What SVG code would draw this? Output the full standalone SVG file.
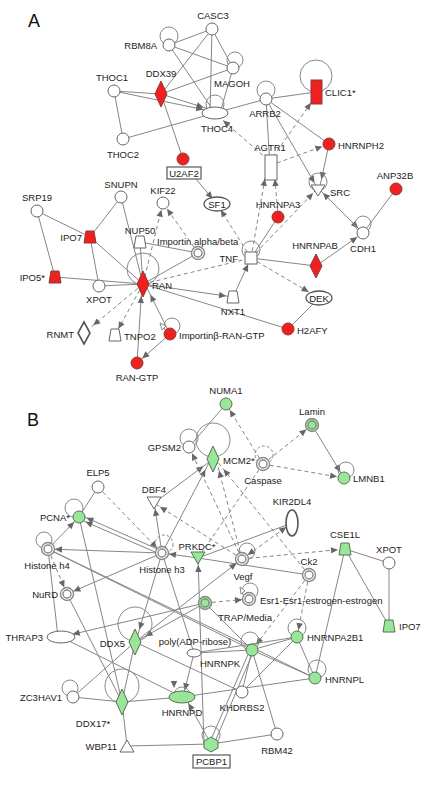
<svg xmlns="http://www.w3.org/2000/svg" width="426" height="788" viewBox="0 0 426 788">
<style>
text{font-family:"Liberation Sans",Arial,sans-serif;font-size:9.5px;fill:#222}
.m{text-anchor:middle}.s{text-anchor:start}.en{text-anchor:end}
.big{font-size:18px;fill:#111}
.n{fill:#fff;stroke:#666;stroke-width:1}
.r{fill:#f02020;stroke:#8a3a3a;stroke-width:1}
.g{fill:#98e698;stroke:#5a6e5a;stroke-width:1}
.dc{stroke:#888;stroke-width:1.4}
.lp{fill:none;stroke:#888;stroke-width:1}
.lpd{fill:none;stroke:#888;stroke-width:1;stroke-dasharray:3 2}
.e line{stroke:#868686;stroke-width:1;fill:none}
.d{stroke-dasharray:4 3}
.a{marker-end:url(#ar)}.a2{marker-end:url(#ar2)}.b{marker-start:url(#ar);marker-end:url(#ar)}
.box{fill:#fff;stroke:#666;stroke-width:1.3}
</style>
<defs>
<marker id="ar" viewBox="0 0 30 10" refX="15" refY="5" markerWidth="30" markerHeight="10" markerUnits="userSpaceOnUse" orient="auto-start-reverse"><path d="M1,1.8 L8,5 L1,8.2 z" fill="#666"/></marker>
<marker id="ar2" viewBox="0 0 30 10" refX="20" refY="5" markerWidth="30" markerHeight="10" markerUnits="userSpaceOnUse" orient="auto-start-reverse"><path d="M1,1.8 L8,5 L1,8.2 z" fill="#666"/></marker>
</defs>
<rect width="426" height="788" fill="#fff"/>
<text x="28" y="27" class="big">A</text>
<text x="27" y="426" class="big">B</text>

<g id="connectors" class="e">
<!-- Panel A -->
<line x1="169" y1="45" x2="212" y2="29"/>
<line x1="169" y1="45" x2="233" y2="68"/>
<line x1="169" y1="45" x2="215" y2="113"/>
<line x1="161" y1="94" x2="212" y2="29"/>
<line x1="161" y1="94" x2="233" y2="68"/>
<line x1="161" y1="94" x2="215" y2="111" class="a2"/>
<line x1="114" y1="91" x2="215" y2="112" class="a2"/>
<line x1="114" y1="91" x2="161" y2="94"/>
<line x1="114" y1="91" x2="123" y2="139"/>
<line x1="123" y1="139" x2="215" y2="113"/>
<line x1="161" y1="94" x2="183" y2="159"/>
<line x1="212" y1="29" x2="233" y2="68"/>
<line x1="212" y1="29" x2="210" y2="113"/>
<line x1="233" y1="68" x2="220" y2="113"/>
<line x1="215" y1="113" x2="266" y2="99"/>
<line x1="266" y1="99" x2="316" y2="92"/>
<line x1="266" y1="99" x2="270" y2="167"/>
<line x1="266" y1="99" x2="329" y2="144"/>
<line x1="266" y1="99" x2="318" y2="189" class="a"/>
<line x1="268" y1="160" x2="218" y2="116" class="d a"/>
<line x1="273" y1="157" x2="315" y2="97" class="d a"/>
<line x1="277" y1="163" x2="329" y2="144" class="d a"/>
<line x1="329" y1="144" x2="320" y2="186" class="a"/>
<line x1="196" y1="179" x2="217" y2="204" class="a"/>
<line x1="251" y1="258" x2="267" y2="167" class="d a2"/>
<line x1="278" y1="217" x2="274" y2="167" class="d a2"/>
<line x1="251" y1="258" x2="217" y2="204" class="d a"/>
<line x1="251" y1="258" x2="318" y2="188" class="d a"/>
<line x1="251" y1="258" x2="278" y2="217"/>
<line x1="251" y1="258" x2="316" y2="266"/>
<line x1="316" y1="266" x2="363" y2="233" class="a"/>
<line x1="318" y1="188" x2="363" y2="233" class="b"/>
<line x1="396" y1="189" x2="363" y2="233"/>
<line x1="251" y1="258" x2="319" y2="298" class="d a2"/>
<line x1="319" y1="298" x2="288" y2="329"/>
<line x1="233" y1="297" x2="251" y2="258" class="a"/>
<line x1="143" y1="284" x2="233" y2="297" class="a"/>
<line x1="143" y1="284" x2="288" y2="329"/>
<line x1="143" y1="284" x2="251" y2="258" class="d"/>
<line x1="143" y1="284" x2="163" y2="203" class="d a"/>
<line x1="198" y1="253" x2="163" y2="203" class="d a"/>
<line x1="140" y1="242" x2="198" y2="253"/>
<line x1="198" y1="253" x2="143" y2="284"/>
<line x1="121" y1="197" x2="143" y2="284"/>
<line x1="121" y1="197" x2="90" y2="237"/>
<line x1="37" y1="211" x2="90" y2="237"/>
<line x1="37" y1="211" x2="55" y2="277"/>
<line x1="90" y1="237" x2="143" y2="284"/>
<line x1="90" y1="237" x2="99" y2="286"/>
<line x1="55" y1="277" x2="143" y2="284"/>
<line x1="99" y1="286" x2="143" y2="284"/>
<line x1="140" y1="242" x2="143" y2="284"/>
<line x1="143" y1="284" x2="84" y2="333" class="d a2"/>
<line x1="143" y1="284" x2="115" y2="335" class="d a"/>
<line x1="137" y1="363" x2="142" y2="284" class="a2"/>
<line x1="170" y1="334" x2="145" y2="284" class="a2"/>
<line x1="170" y1="334" x2="137" y2="363" class="a"/>
<!-- Panel B -->
<line x1="226" y1="404" x2="189" y2="447"/>
<line x1="263" y1="464" x2="226" y2="404" class="d a"/>
<line x1="263" y1="464" x2="312" y2="425" class="d a"/>
<line x1="263" y1="464" x2="344" y2="478" class="d a"/>
<line x1="312" y1="425" x2="344" y2="478" class="a"/>
<line x1="154" y1="503" x2="213" y2="459" class="a2"/>
<line x1="162" y1="553" x2="211" y2="459" class="a2"/>
<line x1="242" y1="559" x2="216" y2="459" class="d a2"/>
<line x1="309" y1="575" x2="216" y2="460" class="d a2"/>
<line x1="242" y1="559" x2="189" y2="447" class="d a"/>
<line x1="263" y1="464" x2="198" y2="558" class="d"/>
<line x1="162" y1="553" x2="154" y2="502" class="a"/>
<line x1="242" y1="559" x2="154" y2="503" class="d a"/>
<line x1="98" y1="487" x2="79" y2="517"/>
<line x1="98" y1="487" x2="162" y2="553" class="d a"/>
<line x1="162" y1="555" x2="79" y2="519" class="a"/>
<line x1="162" y1="551" x2="80" y2="515" class="a"/>
<line x1="48" y1="549" x2="79" y2="517" class="a"/>
<line x1="162" y1="553" x2="48" y2="549" class="a"/>
<line x1="162" y1="553" x2="67" y2="594" class="a"/>
<line x1="198" y1="558" x2="162" y2="553" class="a"/>
<line x1="198" y1="558" x2="292" y2="523"/>
<line x1="242" y1="559" x2="292" y2="523" class="d b"/>
<line x1="242" y1="559" x2="345" y2="549" class="d a"/>
<line x1="198" y1="558" x2="309" y2="575"/>
<line x1="345" y1="549" x2="389" y2="563"/>
<line x1="345" y1="549" x2="389" y2="626"/>
<line x1="389" y1="563" x2="389" y2="626"/>
<line x1="345" y1="549" x2="315" y2="678"/>
<line x1="205" y1="603" x2="249" y2="599" class="d a"/>
<line x1="309" y1="575" x2="252" y2="650" class="d a"/>
<line x1="309" y1="575" x2="297" y2="637" class="d a"/>
<line x1="252" y1="650" x2="297" y2="637"/>
<line x1="252" y1="650" x2="315" y2="678"/>
<line x1="252" y1="650" x2="242" y2="692"/>
<line x1="250" y1="650" x2="209" y2="744"/>
<line x1="254" y1="650" x2="214" y2="744"/>
<line x1="252" y1="650" x2="277" y2="734"/>
<line x1="297" y1="637" x2="242" y2="692"/>
<line x1="297" y1="637" x2="315" y2="678"/>
<line x1="182" y1="697" x2="315" y2="678"/>
<line x1="277" y1="734" x2="211" y2="744"/>
<line x1="211" y1="744" x2="127" y2="746"/>
<line x1="211" y1="744" x2="185" y2="697" class="a"/>
<line x1="122" y1="702" x2="182" y2="697"/>
<line x1="122" y1="702" x2="73" y2="697"/>
<line x1="122" y1="702" x2="127" y2="746"/>
<line x1="135" y1="642" x2="122" y2="702"/>
<line x1="135" y1="642" x2="73" y2="697"/>
<line x1="194" y1="653" x2="183" y2="697" class="a"/>
<line x1="205" y1="603" x2="135" y2="642" class="a2"/>
<line x1="162" y1="553" x2="136" y2="641" class="a2"/>
<line x1="135" y1="642" x2="242" y2="559" class="a"/>
<line x1="61" y1="637" x2="182" y2="697"/>
<line x1="205" y1="603" x2="61" y2="637" class="a2"/>
<line x1="48" y1="549" x2="252" y2="650"/>
<line x1="48" y1="549" x2="315" y2="678"/>
<line x1="48" y1="549" x2="58" y2="637"/>
<line x1="48" y1="549" x2="67" y2="594" class="d a"/>
<line x1="67" y1="594" x2="122" y2="702"/>
<line x1="79" y1="517" x2="122" y2="702"/>
<line x1="162" y1="553" x2="194" y2="653"/>
<line x1="204" y1="744" x2="198" y2="558" class="a"/>
<line x1="205" y1="603" x2="252" y2="650"/>
<line x1="135" y1="642" x2="242" y2="692"/>
<line x1="194" y1="653" x2="252" y2="650"/>
<line x1="194" y1="653" x2="297" y2="637"/>
</g>

<!-- Panel A nodes -->
<g id="RBM8A"><circle cx="169" cy="36" r="9" class="lp"/><circle cx="169" cy="45" r="6" class="n"/><text x="157" y="48.5" class="en">RBM8A</text></g>
<g id="CASC3"><circle cx="212" cy="29" r="6" class="n"/><text x="213" y="18.5" class="m">CASC3</text></g>
<g id="MAGOH"><circle cx="235" cy="60" r="8" class="lp"/><circle cx="233" cy="68" r="6" class="n"/><text x="232" y="86.5" class="m">MAGOH</text></g>
<g id="DDX39"><path d="M161,81 L167,94 L161,107 L155,94 Z" class="r"/><text x="161" y="76.5" class="m">DDX39</text></g>
<g id="THOC1"><circle cx="114" cy="91" r="6" class="n"/><text x="112" y="80.5" class="m">THOC1</text></g>
<g id="THOC2"><circle cx="123" cy="139" r="6" class="n"/><text x="123" y="157.5" class="m">THOC2</text></g>
<g id="THOC4"><circle cx="215" cy="104" r="9" class="lp"/><ellipse cx="215" cy="113" rx="13" ry="6" class="n"/><text x="217" y="131.5" class="m">THOC4</text></g>
<g id="ARRB2"><circle cx="266" cy="90" r="9" class="lp"/><circle cx="266" cy="99" r="6" class="n"/><text x="265" y="116.5" class="m">ARRB2</text></g>
<g id="CLIC1"><circle cx="316" cy="76" r="16" class="lp"/><rect x="311" y="80" width="11" height="24" class="r"/><text x="325" y="95.5" class="s">CLIC1*</text></g>
<g id="AGTR1"><rect x="265" y="155" width="12" height="25" class="n"/><text x="270" y="150.5" class="m">AGTR1</text></g>
<g id="HNRNPH2"><circle cx="329" cy="144" r="6" class="r"/><text x="338" y="148.5" class="s">HNRNPH2</text></g>
<g id="U2AF2"><circle cx="183" cy="159" r="6" class="r"/><rect x="167" y="167" width="34" height="12" class="box"/><text x="184" y="176.5" class="m">U2AF2</text></g>
<g id="SF1"><ellipse cx="217" cy="204" rx="13" ry="7" fill="#fff" stroke="#555" stroke-width="1.3"/><text x="217" y="207.5" class="m">SF1</text></g>
<g id="SNUPN"><circle cx="121" cy="197" r="6" class="n"/><text x="121" y="187.5" class="m">SNUPN</text></g>
<g id="KIF22"><circle cx="163" cy="203" r="6" class="n"/><text x="163" y="193.5" class="m">KIF22</text></g>
<g id="SRP19"><circle cx="37" cy="211" r="6" class="n"/><text x="37" y="200.5" class="m">SRP19</text></g>
<g id="IPO7A"><path d="M86,231 L94,231 L96,243 L84,243 Z" class="r"/><text x="82" y="240.5" class="en">IPO7</text></g>
<g id="NUP50"><path d="M136,236 L144,236 L146,248 L134,248 Z" class="n"/><text x="140" y="233.5" class="m">NUP50</text></g>
<g id="ImportinAB"><circle cx="198" cy="253" r="6.5" fill="#fff" class="dc"/><circle cx="198" cy="253" r="4" fill="#fff" class="dc"/><text x="157" y="244.5" class="s">Importin alpha/beta</text></g>
<g id="HNRNPA3"><circle cx="278" cy="217" r="6" class="r"/><text x="278" y="207.5" class="m">HNRNPA3</text></g>
<g id="TNF"><circle cx="251" cy="250" r="9" class="lp"/><rect x="245" y="252" width="12" height="12" class="n"/><text x="238" y="261.5" class="en">TNF</text></g>
<g id="SRC"><circle cx="318" cy="182" r="9" class="lp"/><path d="M311,185 L325,185 L318,196 Z" class="n"/><text x="330" y="195.5" class="s">SRC</text></g>
<g id="ANP32B"><circle cx="396" cy="189" r="6" class="r"/><text x="395" y="178.5" class="m">ANP32B</text></g>
<g id="CDH1"><circle cx="363" cy="224" r="8" class="lp"/><circle cx="363" cy="233" r="6" class="n"/><text x="363" y="251.5" class="m">CDH1</text></g>
<g id="HNRNPAB"><path d="M316,254 L322,266 L316,278 L310,266 Z" class="r"/><text x="315" y="248.5" class="m">HNRNPAB</text></g>
<g id="IPO5"><path d="M51,271 L59,271 L61,283 L49,283 Z" class="r"/><text x="45" y="280.5" class="en">IPO5*</text></g>
<g id="XPOTA"><circle cx="99" cy="286" r="6" class="n"/><text x="99" y="302.5" class="m">XPOT</text></g>
<g id="RAN"><circle cx="143" cy="269" r="16" class="lp"/><path d="M143,271 L149,284 L143,297 L137,284 Z" class="r"/><text x="152" y="288.5" class="s">RAN</text></g>
<g id="NXT1"><path d="M229,291 L237,291 L239,303 L227,303 Z" class="n"/><text x="233" y="314.5" class="m">NXT1</text></g>
<g id="DEK"><ellipse cx="319" cy="298" rx="13" ry="7" fill="#fff" stroke="#555" stroke-width="1.3"/><text x="319" y="301.5" class="m">DEK</text></g>
<g id="H2AFY"><circle cx="288" cy="329" r="6" class="r"/><text x="297" y="333.5" class="s">H2AFY</text></g>
<g id="ImportinB"><circle cx="172" cy="326" r="8" class="lp"/><path d="M160,323 L166,326 L162,330 Z" fill="#fff" stroke="#888"/><circle cx="170" cy="334" r="6" class="r"/><text x="179" y="338.5" class="s">Importinβ-RAN-GTP</text></g>
<g id="RNMT"><path d="M84,322 L90,333 L84,344 L78,333 Z" fill="#fff" stroke="#555" stroke-width="1.6"/><text x="74" y="337.5" class="en">RNMT</text></g>
<g id="TNPO2"><path d="M111,329 L119,329 L121,341 L109,341 Z" class="n"/><text x="124" y="339.5" class="s">TNPO2</text></g>
<g id="RANGTP"><circle cx="137" cy="363" r="6" class="r"/><text x="137" y="380.5" class="m">RAN-GTP</text></g>

<!-- Panel B nodes -->
<g id="NUMA1"><circle cx="226" cy="404" r="6" class="g"/><text x="226" y="393.5" class="m">NUMA1</text></g>
<g id="GPSM2"><circle cx="189" cy="438" r="9" class="lp"/><circle cx="189" cy="447" r="6" class="n"/><text x="181" y="450.5" class="en">GPSM2</text></g>
<g id="MCM2"><circle cx="213" cy="440" r="17" class="lp"/><path d="M213,446 L219,459 L213,472 L207,459 Z" class="g"/><text x="223" y="463.5" class="s">MCM2*</text></g>
<g id="Caspase"><circle cx="264" cy="455" r="9" class="lpd"/><circle cx="263" cy="464" r="6.5" fill="#fff" class="dc"/><circle cx="263" cy="464" r="4" fill="#fff" class="dc"/><text x="263" y="483.5" class="m">Caspase</text></g>
<g id="Lamin"><circle cx="312" cy="425" r="6.5" fill="#98e698" class="dc"/><circle cx="312" cy="425" r="4" fill="#98e698" class="dc"/><text x="312" y="414.5" class="m">Lamin</text></g>
<g id="LMNB1"><circle cx="346" cy="470" r="8" class="lp"/><circle cx="344" cy="478" r="6" class="g"/><text x="353" y="481.5" class="s">LMNB1</text></g>
<g id="ELP5"><circle cx="98" cy="487" r="6" class="n"/><text x="98" y="475.5" class="m">ELP5</text></g>
<g id="DBF4"><path d="M147,497 L161,497 L154,509 Z" class="n"/><text x="154" y="492.5" class="m">DBF4</text></g>
<g id="KIR2DL4"><ellipse cx="292" cy="523" rx="6" ry="13" fill="#fff" stroke="#555" stroke-width="1.6"/><text x="292" y="504.5" class="m">KIR2DL4</text></g>
<g id="PCNA"><circle cx="74" cy="508" r="9" class="lp"/><circle cx="79" cy="517" r="6" class="g"/><text x="70" y="520.5" class="en">PCNA*</text></g>
<g id="Histoneh4"><circle cx="44" cy="540" r="8" class="lp"/><circle cx="48" cy="549" r="6.5" fill="#fff" class="dc"/><circle cx="48" cy="549" r="4" fill="#fff" class="dc"/><text x="47" y="568.5" class="m">Histone h4</text></g>
<g id="Histoneh3"><circle cx="164" cy="544" r="9" class="lpd"/><circle cx="162" cy="553" r="6.5" fill="#fff" class="dc"/><circle cx="162" cy="553" r="4" fill="#fff" class="dc"/><text x="162" y="572.5" class="m">Histone h3</text></g>
<g id="PRKDC"><path d="M191,552 L205,552 L198,564 Z" class="g"/><text x="197" y="549.5" class="m">PRKDC*</text></g>
<g id="Vegf"><circle cx="247" cy="551" r="8" class="lp"/><circle cx="242" cy="559" r="6.5" fill="#fff" class="dc"/><circle cx="242" cy="559" r="4" fill="#fff" class="dc"/><text x="243" y="579.5" class="m">Vegf</text></g>
<g id="Ck2"><circle cx="309" cy="575" r="6.5" fill="#fff" class="dc"/><circle cx="309" cy="575" r="4" fill="#fff" class="dc"/><text x="309" y="564.5" class="m">Ck2</text></g>
<g id="CSE1L"><path d="M341,543 L349,543 L351,555 L339,555 Z" class="g"/><text x="345" y="537.5" class="m">CSE1L</text></g>
<g id="XPOTB"><circle cx="389" cy="563" r="6" class="n"/><text x="389" y="552.5" class="m">XPOT</text></g>
<g id="NuRD"><circle cx="67" cy="594" r="6.5" fill="#fff" class="dc"/><circle cx="67" cy="594" r="4" fill="#fff" class="dc"/><text x="58" y="597.5" class="en">NuRD</text></g>
<g id="TRAPMedia"><circle cx="205" cy="603" r="6.5" fill="#98e698" class="dc"/><circle cx="205" cy="603" r="4" fill="#98e698" class="dc"/><text x="245" y="620.5" class="m">TRAP/Media</text></g>
<g id="Esr1"><circle cx="250" cy="591" r="8" class="lp"/><path d="M240,587 L245,591 L241,594 Z" fill="#fff" stroke="#888"/><circle cx="249" cy="599" r="6.5" fill="#fff" class="dc"/><circle cx="249" cy="599" r="4" fill="#fff" class="dc"/><text x="260" y="603.5" class="s">Esr1-Esr1-estrogen-estrogen</text></g>
<g id="THRAP3"><ellipse cx="61" cy="637" rx="14" ry="6" class="n"/><text x="43" y="640.5" class="en">THRAP3</text></g>
<g id="DDX5"><circle cx="135" cy="624" r="17" class="lp"/><path d="M135,629 L141,642 L135,655 L129,642 Z" class="g"/><text x="125" y="646.5" class="en">DDX5</text></g>
<g id="polyADP"><ellipse cx="194" cy="653" rx="7" ry="4" class="n"/><text x="195" y="644.5" class="m">poly(ADP-ribose)</text></g>
<g id="HNRNPK"><circle cx="250" cy="641" r="9" class="lp"/><circle cx="252" cy="650" r="6" class="g"/><text x="220" y="666.5" class="m">HNRNPK</text></g>
<g id="HNRNPA2B1"><circle cx="297" cy="628" r="9" class="lp"/><circle cx="297" cy="637" r="6" class="g"/><text x="307" y="640.5" class="s">HNRNPA2B1</text></g>
<g id="HNRNPL"><circle cx="317" cy="669" r="9" class="lp"/><circle cx="315" cy="678" r="6" class="g"/><text x="325" y="682.5" class="s">HNRNPL</text></g>
<g id="KHDRBS2"><circle cx="242" cy="692" r="6" class="n"/><text x="242" y="710.5" class="m">KHDRBS2</text></g>
<g id="HNRNPD"><path d="M174,695 A8,8 0 1 1 190,695" fill="none" stroke="#888" marker-start="url(#ar)"/><ellipse cx="182" cy="697" rx="13" ry="6" class="g"/><text x="182" y="715.5" class="m">HNRNPD</text></g>
<g id="ZC3HAV1"><circle cx="70" cy="688" r="8" class="lp"/><circle cx="73" cy="697" r="6" class="n"/><text x="62" y="700.5" class="en">ZC3HAV1</text></g>
<g id="DDX17"><circle cx="122" cy="686" r="17" class="lp"/><path d="M122,689 L128,702 L122,715 L116,702 Z" class="g"/><text x="93" y="726.5" class="m">DDX17*</text></g>
<g id="WBP11"><path d="M127,740 L134,752 L120,752 Z" class="n"/><text x="117" y="749.5" class="en">WBP11</text></g>
<g id="PCBP1"><circle cx="211" cy="735" r="9" class="lp"/><path d="M211,737 L218,741 L218,748 L211,752 L204,748 L204,741 Z" class="g"/><rect x="193" y="755" width="37" height="13" class="box"/><text x="211.5" y="765" class="m">PCBP1</text></g>
<g id="RBM42"><circle cx="277" cy="734" r="6" class="n"/><text x="277" y="753.5" class="m">RBM42</text></g>
<g id="IPO7B"><path d="M385,620 L393,620 L395,632 L383,632 Z" class="g"/><text x="399" y="629.5" class="s">IPO7</text></g>
</svg>
